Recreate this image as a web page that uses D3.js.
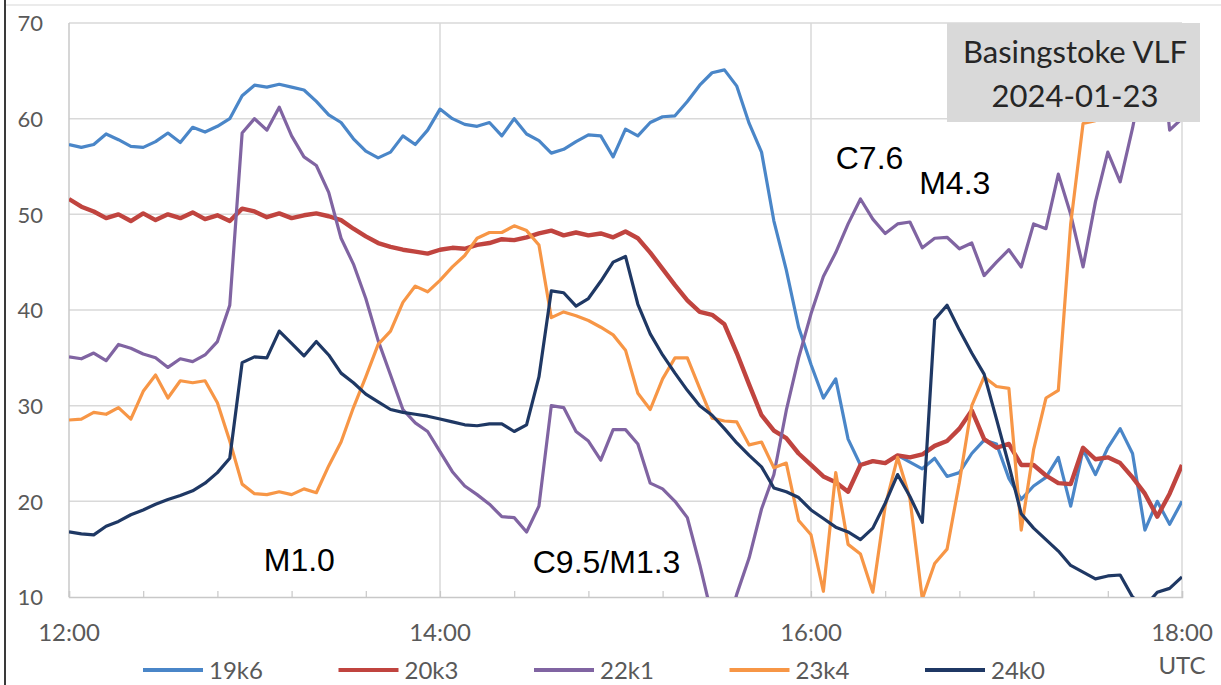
<!DOCTYPE html>
<html>
<head>
<meta charset="utf-8">
<script src="https://cdn.jsdelivr.net/npm/d3@7"></script>
<style>
  html, body { margin: 0; padding: 0; background: #ffffff; }
  .tick-label { font-family: Lato, "Open Sans", sans-serif; fill: #595959; }
  .note { font-family: "Liberation Sans", Arial, sans-serif; font-size: 32px; fill: #000000; }
</style>
</head>
<body>
<div class="chart"></div>
<script>
/* Global Constants
============================================= */
const SVG_WIDTH = 1221;
const SVG_HEIGHT = 685;

// sampling step of the readings below (minutes after 12:00)
const STEP = 4;

const SERIES_NAMES = ["19k6", "20k3", "22k1", "23k4", "24k0"];
const SERIES_COLORS = ["#4a86c8", "#c0443f", "#8064a2", "#f79646", "#1f3864"];

const X_TICK_LABELS = ["12:00", "14:00", "16:00", "18:00"];
const Y_TICKS = [10, 20, 30, 40, 50, 60, 70];

const TITLE_LINES = ["Basingstoke VLF", "2024-01-23"];

/* Data (one value every 4 min, 12:00 -> 18:00)
============================================= */
const v19k6 = [
  57.3, 57.0, 57.3, 58.4, 57.8, 57.1, 57.0, 57.6, 58.5, 57.5,
  59.1, 58.6, 59.2, 60.0, 62.4, 63.5, 63.3, 63.6, 63.3, 63.0,
  61.8, 60.4, 59.6, 57.9, 56.6, 55.9, 56.5, 58.2, 57.3, 58.8,
  61.0, 60.0, 59.4, 59.2, 59.6, 58.2, 60.0, 58.4, 57.7, 56.4,
  56.8, 57.6, 58.3, 58.2, 56.0, 58.9, 58.2, 59.6, 60.2, 60.3,
  61.8, 63.5, 64.8, 65.1, 63.4, 59.5, 56.5, 49.3, 44.2, 38.2,
  34.3, 30.8, 32.8, 26.5, 23.8, 24.2, 24.0, 24.8, 24.1, 23.4,
  24.5, 22.6, 23.0, 25.0, 26.4, 26.0, 22.4, 20.2, 21.6, 22.5,
  24.6, 19.5, 25.4, 22.8, 25.6, 27.6, 25.0, 17.0, 20.0, 17.6,
  20.0
];

const v20k3 = [
  51.6, 50.8, 50.3, 49.6, 50.0, 49.3, 50.1, 49.4, 50.0, 49.6,
  50.2, 49.5, 49.9, 49.3, 50.6, 50.3, 49.7, 50.1, 49.6, 49.9,
  50.1, 49.8, 49.4, 48.5, 47.7, 47.0, 46.6, 46.3, 46.1, 45.9,
  46.3, 46.5, 46.4, 46.8, 47.0, 47.4, 47.3, 47.6, 48.0, 48.3,
  47.8, 48.1, 47.8, 48.0, 47.6, 48.2, 47.5, 46.0, 44.3, 42.6,
  41.0, 39.8, 39.5, 38.5, 35.5, 32.2, 29.0, 27.4, 26.6, 25.0,
  23.8, 22.6, 22.0, 21.0, 23.8, 24.2, 24.0, 24.8, 24.6, 24.9,
  25.8, 26.3, 27.6, 29.5, 26.5, 25.6, 26.0, 23.8, 23.8, 22.7,
  21.9, 21.8, 25.6, 24.4, 24.6, 24.0, 22.5, 20.8, 18.4, 20.8,
  23.8
];

const v22k1 = [
  35.1, 34.9, 35.5, 34.7, 36.4, 36.0, 35.4, 35.0, 34.0, 34.9,
  34.6, 35.3, 36.7, 40.5, 58.5, 60.0, 58.8, 61.2, 58.2, 56.0,
  55.1, 52.3, 47.5, 44.8, 41.2, 36.8, 33.2, 29.6, 28.2, 27.3,
  25.2, 23.1, 21.6, 20.7, 19.7, 18.4, 18.3, 16.8, 19.5, 30.0,
  29.8, 27.3, 26.3, 24.3, 27.5, 27.5, 26.0, 21.9, 21.3, 20.0,
  18.3, 13.4, 8.0, 6.0, 10.3, 14.1, 19.2, 22.8, 29.5, 35.0,
  39.6, 43.5, 46.0, 49.0, 51.6, 49.5, 48.0, 49.0, 49.2, 46.5,
  47.5, 47.6, 46.4, 47.0, 43.6, 45.0, 46.3, 44.5, 49.0, 48.5,
  54.2, 50.0, 44.5, 51.3, 56.5, 53.4, 59.0, 65.5, 71.5, 58.8,
  60.0
];

const v23k4 = [
  28.5, 28.6, 29.3, 29.1, 29.8, 28.6, 31.5, 33.2, 30.8, 32.6,
  32.4, 32.6, 30.3, 26.3, 21.8, 20.8, 20.7, 21.0, 20.7, 21.3,
  20.9, 23.7, 26.2, 29.8, 33.0, 36.4, 37.8, 40.8, 42.5, 41.9,
  43.1, 44.5, 45.7, 47.5, 48.1, 48.1, 48.8, 48.3, 46.8, 39.2,
  39.8, 39.4, 38.9, 38.2, 37.4, 35.8, 31.3, 29.6, 32.8, 35.0,
  35.0, 31.8, 28.7, 28.4, 28.3, 25.9, 26.2, 23.5, 24.0, 18.0,
  16.5, 10.6, 23.0, 15.5, 14.5, 10.5, 19.5, 24.6, 20.3, 9.8,
  13.5, 15.0, 22.0, 30.0, 33.0, 32.0, 31.8, 17.0, 25.4, 30.8,
  31.6, 49.0, 59.5, 59.8, 60.2, 61.0, 68.0, 76.0, 78.0, 78.0,
  78.0
];

const v24k0 = [
  16.8, 16.6, 16.5, 17.4, 17.9, 18.6, 19.1, 19.7, 20.2, 20.6,
  21.1, 21.9, 23.0, 24.5, 34.5, 35.1, 35.0, 37.8, 36.5, 35.2,
  36.7, 35.3, 33.4, 32.4, 31.2, 30.4, 29.6, 29.3, 29.1, 28.9,
  28.6, 28.3, 28.0, 27.9, 28.1, 28.1, 27.3, 28.0, 33.0, 42.0,
  41.8, 40.4, 41.2, 43.0, 45.0, 45.6, 40.6, 37.5, 35.3, 33.4,
  31.6, 30.0, 29.0, 27.6, 26.1, 24.8, 23.6, 21.4, 21.0, 20.4,
  19.1, 18.2, 17.3, 16.8, 16.0, 17.2, 19.8, 22.8, 20.5, 17.8,
  39.0, 40.5, 37.9, 35.5, 33.3, 28.6, 23.8, 18.7, 17.2, 16.0,
  14.8, 13.3, 12.6, 11.9, 12.2, 12.3, 10.0, 9.0, 10.5, 10.9,
  12.1
];

// flare labels: [text, minutes after 12:00, value at baseline]
const NOTES = [
  ["M1.0", 63, 12.7],
  ["C9.5/M1.3", 150, 12.5],
  ["C7.6", 248, 54.7],
  ["M4.3", 275, 52.1]
];

/* Layout
============================================= */
var margin = {
    top: 23,
    bottom: SVG_HEIGHT - 597,
    left: 69,
    right: SVG_WIDTH - 1182
};

var width = SVG_WIDTH - margin.left - margin.right;
var height = SVG_HEIGHT - margin.top - margin.bottom;

var svg = d3.select(".chart")
    .append("svg")
    .attr("width", SVG_WIDTH)
    .attr("height", SVG_HEIGHT)
    .style("display", "block");

// picture frame (dark left edge, faint top edge)
svg.append("line")
    .attr("x1", 5).attr("x2", 5)
    .attr("y1", 0).attr("y2", SVG_HEIGHT)
    .attr("stroke", "#3a3a3a")
    .attr("stroke-width", 2);

svg.append("line")
    .attr("x1", 6).attr("x2", SVG_WIDTH)
    .attr("y1", 5).attr("y2", 5)
    .attr("stroke", "#e4e4e4")
    .attr("stroke-width", 1.5);

var chart = svg.append("g")
    .attr("transform", `translate(${margin.left}, ${margin.top})`);

//****************** scales ***************************//
var xScale = d3.scaleLinear().domain([0, 360]).range([0, width]);
var yScale = d3.scaleLinear().domain([10, 70]).range([height, 0]);

//****************** grid *****************************//
chart.append("g")
    .selectAll("line")
    .data(Y_TICKS.filter(d => d > 10))
    .enter()
    .append("line")
    .attr("x1", 0)
    .attr("x2", width)
    .attr("y1", d => yScale(d))
    .attr("y2", d => yScale(d))
    .attr("stroke", "#d9d9d9")
    .attr("stroke-width", 1.5);

chart.append("g")
    .selectAll("line")
    .data([120, 240, 360])
    .enter()
    .append("line")
    .attr("x1", d => xScale(d))
    .attr("x2", d => xScale(d))
    .attr("y1", 0)
    .attr("y2", height)
    .attr("stroke", "#d9d9d9")
    .attr("stroke-width", 1.5);

// left axis line
chart.append("line")
    .attr("x1", 0).attr("x2", 0)
    .attr("y1", 0).attr("y2", height)
    .attr("stroke", "#c8c8c8")
    .attr("stroke-width", 1.5);

//****************** axes *****************************//
var bottomAxis = d3.axisBottom(xScale)
    .tickValues(d3.range(0, 361, 24))
    .tickSize(-6)
    .tickFormat("");

var xAxis = chart.append("g")
    .attr("transform", `translate(0, ${height})`)
    .call(bottomAxis);

xAxis.select(".domain").attr("stroke", "#c8c8c8").attr("stroke-width", 1.5);
xAxis.selectAll(".tick line").attr("stroke", "#c8c8c8").attr("stroke-width", 1.2);

chart.append("g")
    .selectAll("text")
    .data(X_TICK_LABELS)
    .enter()
    .append("text")
    .attr("class", "tick-label")
    .attr("x", (d, i) => xScale(i * 120))
    .attr("y", height + 44)
    .attr("text-anchor", "middle")
    .style("font-size", "24px")
    .text(d => d);

chart.append("text")
    .attr("class", "tick-label")
    .attr("x", xScale(360))
    .attr("y", height + 77)
    .attr("text-anchor", "middle")
    .style("font-size", "24px")
    .text("UTC");

var leftAxis = d3.axisLeft(yScale)
    .tickValues(Y_TICKS)
    .tickSize(0)
    .tickPadding(26);

var yAxis = chart.append("g").call(leftAxis);
yAxis.select(".domain").remove();
yAxis.selectAll("text")
    .attr("class", "tick-label")
    .attr("dy", "0.36em")
    .style("font-size", "22px");

//****************** lines ****************************//
chart.append("clipPath")
    .attr("id", "plot-clip")
    .append("rect")
    .attr("x", 0)
    .attr("y", 0)
    .attr("width", width)
    .attr("height", height);

var allSeries = [v19k6, v20k3, v22k1, v23k4, v24k0];

var line = d3.line()
    .x((d, i) => xScale(i * STEP))
    .y(d => yScale(d));

var plotGroup = chart.append("g").attr("clip-path", "url(#plot-clip)");

plotGroup.selectAll("path")
    .data(allSeries)
    .enter()
    .append("path")
    .attr("d", d => line(d))
    .attr("fill", "none")
    .attr("stroke", (d, i) => SERIES_COLORS[i])
    .attr("stroke-width", (d, i) => i === 1 ? 4.4 : 3.2)
    .attr("stroke-linejoin", "round");

//****************** flare notes **********************//
chart.append("g")
    .selectAll("text")
    .data(NOTES)
    .enter()
    .append("text")
    .attr("class", "note")
    .attr("x", d => xScale(d[1]))
    .attr("y", d => yScale(d[2]))
    .text(d => d[0]);

//****************** title box ************************//
var titleBox = svg.append("g");

titleBox.append("rect")
    .attr("x", 947)
    .attr("y", 23)
    .attr("width", 253)
    .attr("height", 99)
    .attr("fill", "#d9d9d9");

titleBox.selectAll("text")
    .data(TITLE_LINES)
    .enter()
    .append("text")
    .attr("x", 1075)
    .attr("y", (d, i) => 63 + i * 44)
    .attr("text-anchor", "middle")
    .style("font-family", "Lato, 'Open Sans', sans-serif")
    .style("font-size", "31px")
    .style("fill", "#262626")
    .text(d => d);

//****************** legend ***************************//
var legend = svg.append("g")
    .attr("transform", "translate(143, 670)");

var legendItem = legend.selectAll("g")
    .data(SERIES_NAMES)
    .enter()
    .append("g")
    .attr("transform", (d, i) => `translate(${i * 195.5}, 0)`);

legendItem.append("line")
    .attr("x1", 0)
    .attr("x2", 60)
    .attr("y1", 0)
    .attr("y2", 0)
    .attr("stroke", (d, i) => SERIES_COLORS[i])
    .attr("stroke-width", 4);

legendItem.append("text")
    .attr("class", "tick-label")
    .attr("x", 66)
    .attr("y", 0)
    .attr("dy", "0.36em")
    .style("font-size", "24px")
    .text(d => d);
</script>
</body>
</html>
